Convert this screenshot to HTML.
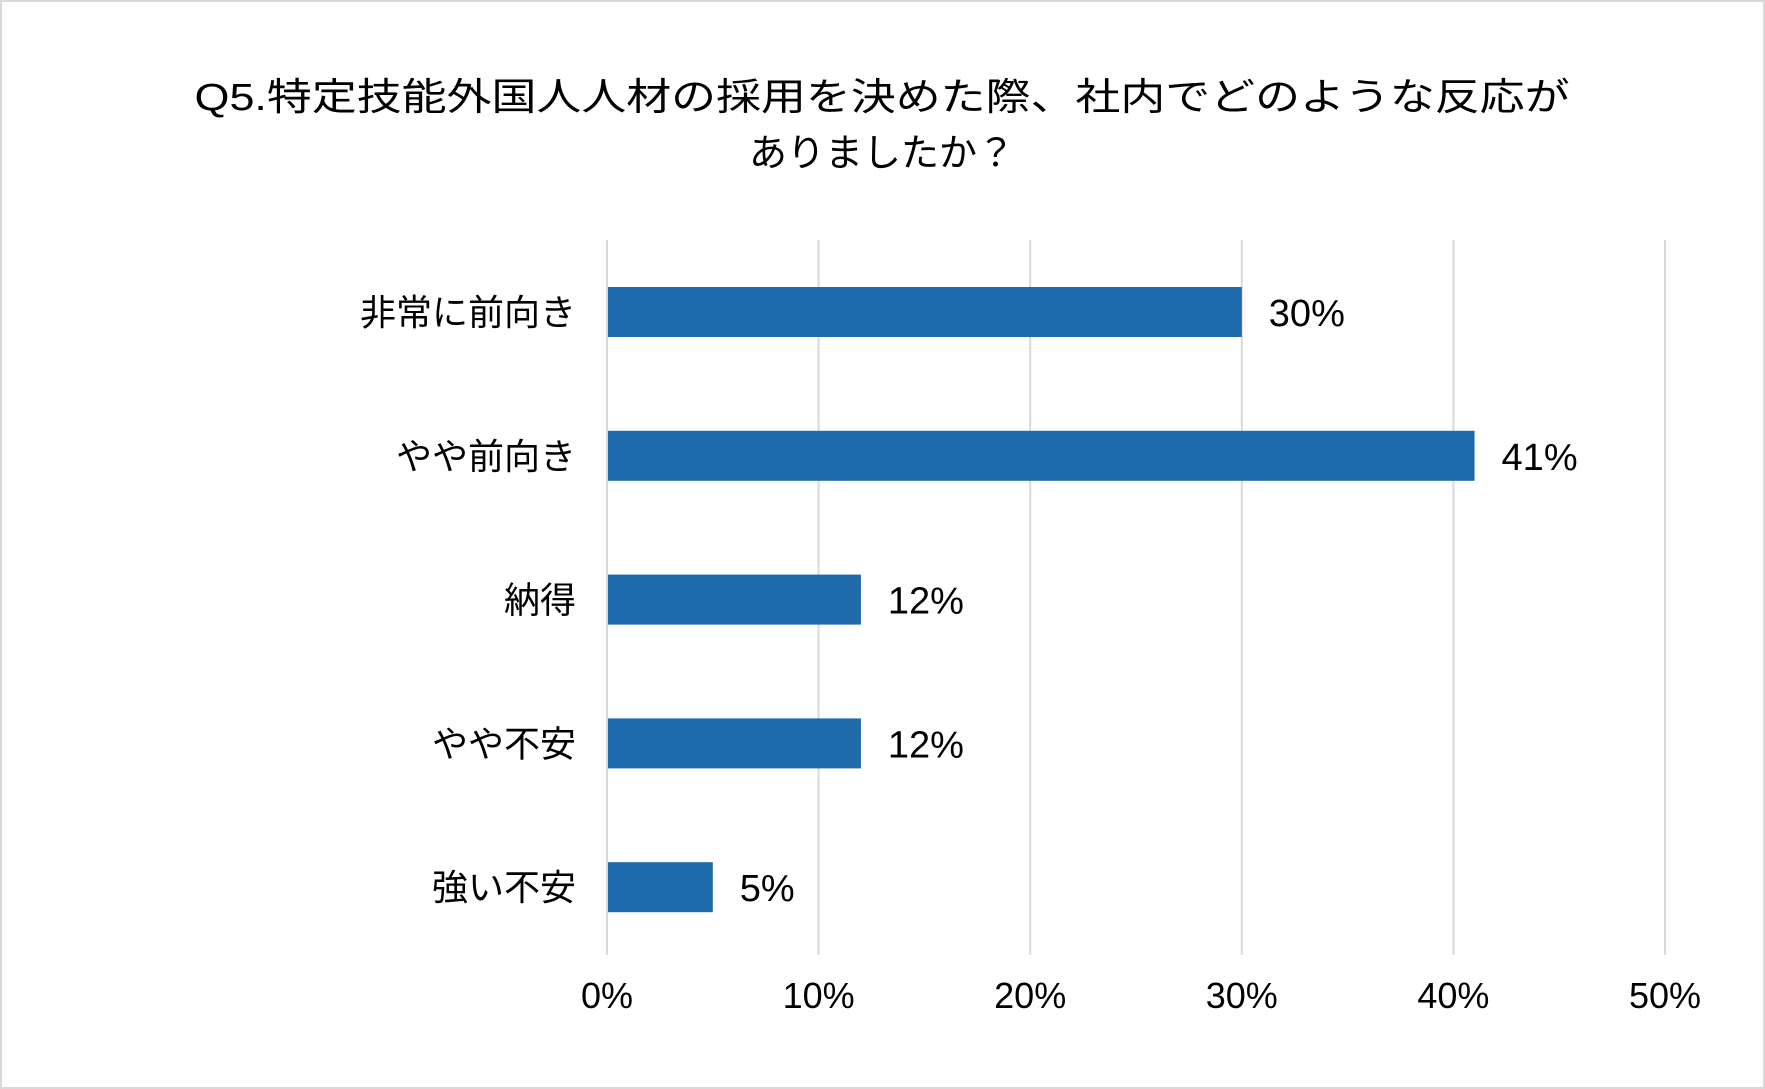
<!DOCTYPE html>
<html><head><meta charset="utf-8"><style>
body{margin:0;background:#fff}
svg{display:block;font-family:"Liberation Sans","Noto Sans CJK JP",sans-serif}
</style></head><body>
<svg width="1765" height="1089" viewBox="0 0 1765 1089">
<rect x="1" y="1" width="1763" height="1087" fill="#fff" stroke="#d9d9d9" stroke-width="2"/>
<text x="882" y="110" text-anchor="middle" font-size="38" fill="#000" textLength="1375" lengthAdjust="spacingAndGlyphs">Q5.特定技能外国人人材の採用を決めた際、社内でどのような反応が</text>
<text x="882" y="166" text-anchor="middle" font-size="38" fill="#000">ありましたか？</text>
<g id="grid"></g><g id="bars"></g><g id="labels"></g>
</svg>
<script>
const categories=["非常に前向き","やや前向き","納得","やや不安","強い不安"];
const values=[30,41,12,12,5];
const valueLabels=["30%","41%","12%","12%","5%"];
const ticks=[0,10,20,30,40,50];
const tickLabels=["0%","10%","20%","30%","40%","50%"];
const NS="http://www.w3.org/2000/svg";
const x0=607,x1=1665,xmax=50;
const xs=v=>x0+(x1-x0)*v/xmax;
const ys=i=>312+i*143.8;
const bh=50;
function mk(t,a,p){const e=document.createElementNS(NS,t);for(const k in a)e.setAttribute(k,a[k]);p.appendChild(e);return e;}
const G=document.getElementById('grid'),B=document.getElementById('bars'),L=document.getElementById('labels');
ticks.forEach((t,i)=>{
 const l=mk('line',{x1:xs(t),x2:xs(t),y1:240,y2:955,stroke:'#d9d9d9','stroke-width':2},G);
 
 
 const tx=mk('text',{x:xs(t),y:1008,'text-anchor':'middle','font-size':36,fill:'#000'},L);
 tx.textContent=tickLabels[i];
 
 
});
categories.forEach((c,i)=>{
 const y=ys(i);
 const r=mk('rect',{x:xs(0)+1,y:y-bh/2,width:xs(values[i])-xs(0)-1,height:bh,fill:'#1f6aab'},B);
 
 
 const cl=mk('text',{x:576,y:y+13,'text-anchor':'end','font-size':36,fill:'#000'},L);
 cl.textContent=c;
 
 
 const vl=mk('text',{x:xs(values[i])+27,y:y+14,'font-size':38,fill:'#000'},L);
 vl.textContent=valueLabels[i];
 
 
});
</script>
</body></html>
